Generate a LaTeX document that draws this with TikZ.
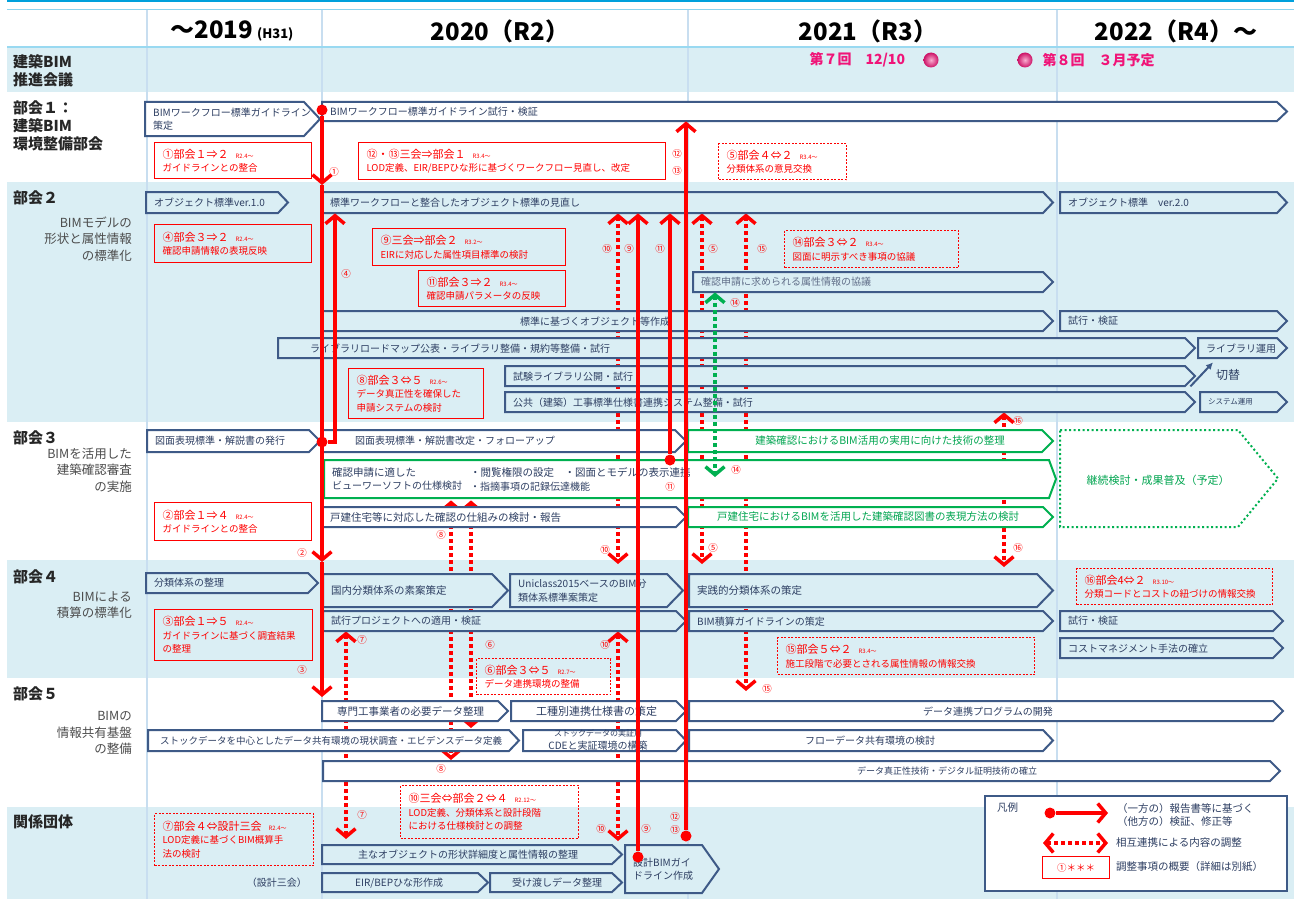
\documentclass[tikz,border=0pt]{standalone}
\usepackage{fontspec}
\setmainfont{Noto Sans CJK JP}
\usetikzlibrary{arrows.meta}
\pgfdeclarelayer{bg}
\pgfdeclarelayer{mid}
\pgfsetlayers{bg,mid,main}

\definecolor{bandc}{RGB}{218,238,244}
\definecolor{boxc}{RGB}{62,90,135}
\definecolor{boxtx}{RGB}{45,62,98}
\definecolor{gridc}{RGB}{200,222,240}
\definecolor{topc}{RGB}{0,160,220}
\definecolor{grn}{RGB}{0,176,80}
\definecolor{grntx}{RGB}{0,165,80}
\definecolor{pinkc}{RGB}{240,20,120}

\newcommand\boxfs{\fontsize{10}{13.5}\selectfont}
\newcommand\notefs{\fontsize{9.5}{13.5}\selectfont}
\newcommand\ttlfs{\fontsize{11}{13.5}\selectfont}
\newcommand\tinyfs{\fontsize{6}{8}\selectfont}
\newcommand\rowfs{\fontsize{15}{18}\selectfont\bfseries}
\newcommand\subfs{\fontsize{12.5}{16.5}\selectfont}
\newcommand\yearfs{\fontsize{24}{28}\selectfont\bfseries}
\newcommand\numfs{\fontsize{9.5}{10}\selectfont}
\newcommand\lgfs{\fontsize{10.5}{13.5}\selectfont}
\newcommand\notettl[2]{{\ttlfs #1}\hspace{7pt}{\tinyfs #2}}

\tikzset{
  chevbox/.style={draw=boxc, line width=2pt, fill=bandc, line join=miter},
  gbox/.style={draw=grn, fill=white},
  gdbox/.style={draw=grn, fill=white, dash pattern=on 2pt off 2.5pt},
  boxtext/.style={text=boxtx, font=\boxfs, inner sep=0pt, align=left},
  gtext/.style={text=grntx, font=\fontsize{10.5}{13}\selectfont, inner sep=0pt},
  rnote/.style={draw=red, line width=1.2pt, text=red, font=\notefs, align=left, inner xsep=8pt, inner ysep=2pt},
  rdnote/.style={dash pattern=on 2pt off 1.5pt},
  rarr/.style={draw=red, line width=3.5pt, -{Straight Barb[length=8pt,width=19pt]}},
  rdot/.style={draw=red, line width=3.5pt, dash pattern=on 3.5pt off 3.5pt,
    {Straight Barb[length=8pt,width=19pt]}-{Straight Barb[length=8pt,width=19pt]}},
  gdot/.style={rdot, draw=grn},
  rball/.style={circle, fill=red, minimum size=11pt, inner sep=0pt},
  pball/.style={circle, minimum size=15pt, inner sep=0pt, shading=radial,
    inner color=pinkc!35!white, outer color=pinkc!85!black},
  num/.style={text=red, font=\numfs, inner sep=0pt},
  rowlab/.style={anchor=west, font=\rowfs, align=left, inner sep=0pt, text=black!85},
  sublab/.style={anchor=east, font=\subfs, align=right, inner sep=0pt, text=black!70},
  lgtext/.style={anchor=west, font=\lgfs, text=boxtx, align=left, inner sep=0pt},
}

\newcommand\chev[8][]{%
  \draw[chevbox,#1] (#3,#4) -- ({#5-#7},#4) -- (#5,{(#4+#6)/2}) -- ({#5-#7},#6) -- (#3,#6) -- cycle;
  \node[inner sep=0pt,minimum width={#5-#3},minimum height={#6-#4},anchor=north west] (#2) at (#3,#4) {};
  \node[boxtext,anchor=west] (#2-t) at ([xshift=8pt]#2.west) {#8};%
}
\newcommand\rnote[7][]{%
  \node[rnote,#1,anchor=north west,text width={#5-#3-16},minimum height={#6-#4}] (#2) at (#3,#4) {#7};%
}

\begin{document}
\begin{tikzpicture}[x=1pt,y=-1pt]
\useasboundingbox (0,0) rectangle (1294,899);

\begin{pgfonlayer}{bg}
  \fill[white] (0,0) rectangle (1294,899);
  \fill[bandc] (7,47) rectangle (1294,92);
  \fill[bandc] (7,182) rectangle (1294,422);
  \fill[bandc] (7,560) rectangle (1294,678);
  \fill[bandc] (7,807) rectangle (1294,899);
  \foreach \x in {147,322,688,1057}
    \draw[gridc, line width=1.5pt] (\x,10) -- (\x,899);
  \draw[topc, line width=2.5pt] (7,1) -- (1294,1);
  \draw[topc!45, line width=1pt] (7,10) -- (1294,10);
  \draw[topc!40, line width=1.5pt] (7,47) -- (1294,47);
\end{pgfonlayer}

\node[font=\yearfs] (yr19) at (232,31) {～2019\,{\fontsize{13}{15}\selectfont (H31)}};
\node[font=\yearfs] (yr20) at (500,31) {2020（R2）};
\node[font=\yearfs] (yr21) at (868,31) {2021（R3）};
\node[font=\yearfs] (yr22) at (1176,31) {2022（R4）～};

\node[rowlab] (h0) at (13,71) {建築BIM\\推進会議};
\node[rowlab] (h1) at (13,126) {部会１：\\建築BIM\\環境整備部会};
\node[rowlab] (h2) at (13,198) {部会２};
\node[sublab] (s2) at (132,239) {BIMモデルの\\形状と属性情報\\の標準化};
\node[rowlab] (h3) at (13,438) {部会３};
\node[sublab] (s3) at (132,470) {BIMを活用した\\建築確認審査\\の実施};
\node[rowlab] (h4) at (13,577) {部会４};
\node[sublab] (s4) at (132,605) {BIMによる\\積算の標準化};
\node[rowlab] (h5) at (13,694) {部会５};
\node[sublab] (s5) at (132,733) {BIMの\\情報共有基盤\\の整備};
\node[rowlab] (h6) at (13,822) {関係団体};

\node[anchor=west, font=\fontsize{14}{16}\selectfont\bfseries, text=pinkc] (mt7) at (806,60) {第７回　12/10};
\node[pball] (m7) at (931,60) {};
\node[pball] (m8) at (1025,60) {};
\node[anchor=west, font=\fontsize{14}{16}\selectfont\bfseries, text=pinkc] (mt8) at (1039,60) {第８回　３月予定};

\chev[fill=white]{wfa}{145}{102}{320}{136}{16}{BIMワークフロー標準ガイドライン\\策定}
\chev[fill=white]{wfb}{322}{102}{1287}{121}{10}{BIMワークフロー標準ガイドライン試行・検証}

\chev{oba}{146}{192}{288}{213}{10}{オブジェクト標準ver.1.0}
\chev{obb}{322}{192}{1053}{213}{10}{標準ワークフローと整合したオブジェクト標準の見直し}
\chev{obc}{1060}{192}{1287}{213}{10}{オブジェクト標準　ver.2.0}
\chev{prm}{693}{272}{1053}{292}{10}{\color{boxtx!75}確認申請に求められる属性情報の協議}
\chev{mkob}{322}{311}{1053}{331}{10}{}
\node[boxtext, anchor=west] (mkob-l) at ([xshift=198pt]mkob.west) {標準に基づくオブジェクト等作成};
\chev{trya}{1060}{311}{1287}{331}{10}{試行・検証}
\chev{lib}{278}{338}{1195}{358}{10}{}
\node[boxtext, anchor=west] (lib-l) at ([xshift=32pt]lib.west) {ライブラリロードマップ公表・ライブラリ整備・規約等整備・試行};
\chev{libop}{1198}{338}{1287}{358}{10}{ライブラリ運用}
\chev{tlib}{505}{366}{1195}{386}{10}{試験ライブラリ公開・試行}
\chev{pubs}{505}{392}{1195}{412}{10}{公共（建築）工事標準仕様書連携システム整備・試行}
\chev{sysop}{1200}{392}{1287}{412}{10}{{\fontsize{7.5}{9}\selectfont システム運用}}

\chev[fill=white]{dwa}{147}{430}{320}{452}{11}{図面表現標準・解説書の発行}
\chev[fill=white]{dwb}{322}{430}{686}{452}{11}{}
\node[boxtext, anchor=west] (dwb-l) at ([xshift=33pt]dwb.west) {図面表現標準・解説書改定・フォローアップ};
\chev[gbox]{gtec}{688}{430}{1053}{452}{11}{}
\node[gtext] (gtec-l) at (880,441) {建築確認におけるBIM活用の実用に向けた技術の整理};
\chev[gbox]{view}{324}{460}{1056}{498}{7}{\fontsize{10.5}{15}\selectfont 確認申請に適した\\ビューワーソフトの仕様検討}
\node[boxtext, anchor=west] (view-l) at ([xshift=146pt]view.west) {\fontsize{10.5}{15}\selectfont ・閲覧権限の設定　・図面とモデルの表示連携\\・指摘事項の記録伝達機能};
\chev[fill=white]{dtch}{322}{507}{686}{527}{10}{\fontsize{10.5}{13}\selectfont 戸建住宅等に対応した確認の仕組みの検討・報告}
\chev[gbox]{gdet}{688}{507}{1053}{527}{10}{}
\node[gtext] (gdet-l) at (868,517) {戸建住宅におけるBIMを活用した建築確認図書の表現方法の検討};
\chev[gdbox]{cont}{1060}{430}{1278}{527}{40}{}
\node[gtext, font=\fontsize{11}{13}\selectfont] (cont-l) at (1158,480) {継続検討・成果普及（予定）};

\chev{clsa}{146}{573}{318}{593}{10}{分類体系の整理}
\chev{clsb}{323}{574}{508}{607}{16}{\fontsize{10.5}{13}\selectfont 国内分類体系の素案策定}
\chev{clsc}{510}{574}{683}{607}{16}{Uniclass2015ベースのBIM分\\類体系標準案策定}
\chev{clsd}{689}{574}{1053}{607}{16}{\fontsize{10.5}{13}\selectfont 実践的分類体系の策定}
\chev{pjt}{323}{611}{686}{631}{10}{試行プロジェクトへの適用・検証}
\chev{qsg}{689}{611}{1053}{631}{10}{BIM積算ガイドラインの策定}
\chev{tryb}{1060}{611}{1283}{631}{10}{試行・検証}
\chev{cmm}{1060}{638}{1283}{658}{10}{コストマネジメント手法の確立}

\chev[fill=white]{spc}{322}{701}{508}{721}{10}{}
\node[boxtext, anchor=west] (spc-l) at ([xshift=15pt]spc.west) {\fontsize{10.5}{13}\selectfont 専門工事業者の必要データ整理};
\chev[fill=white]{kss}{511}{701}{686}{721}{10}{}
\node[boxtext, anchor=west] (kss-l) at ([xshift=25pt]kss.west) {\fontsize{11}{13}\selectfont 工種別連携仕様書の策定};
\chev[fill=white]{dprog}{689}{701}{1283}{721}{10}{}
\node[boxtext, anchor=west] (dprog-l) at ([xshift=234pt]dprog.west) {データ連携プログラムの開発};
\chev[fill=white]{stk}{148}{730}{519}{751}{10}{}
\node[boxtext, anchor=west] (stk-l) at ([xshift=12pt]stk.west) {\fontsize{9.5}{13}\selectfont ストックデータを中心としたデータ共有環境の現状調査・エビデンスデータ定義};
\chev[fill=white]{cde}{523}{730}{686}{751}{10}{}
\node[boxtext, align=center] (cde-l) at (598,740) {\fontsize{8}{10.5}\selectfont ストックデータの実証用\\CDEと実証環境の構築};
\chev[fill=white]{flow}{689}{730}{1053}{751}{10}{}
\node[boxtext, anchor=west] (flow-l) at ([xshift=116pt]flow.west) {フローデータ共有環境の検討};
\chev[fill=white]{auth}{323}{761}{1280}{781}{10}{}
\node[boxtext, anchor=west] (auth-l) at ([xshift=534pt]auth.west) {\fontsize{9}{12}\selectfont データ真正性技術・デジタル証明技術の確立};

\chev{lod}{322}{845}{622}{864}{10}{}
\node[boxtext, anchor=west] (lod-l) at ([xshift=36pt]lod.west) {主なオブジェクトの形状詳細度と属性情報の整理};
\chev{eir}{322}{873}{488}{892}{10}{}
\node[boxtext, anchor=west] (eir-l) at ([xshift=33pt]eir.west) {EIR/BEPひな形作成};
\chev{hnd}{490}{873}{622}{892}{10}{}
\node[boxtext, anchor=west] (hnd-l) at ([xshift=22pt]hnd.west) {受け渡しデータ整理};
\chev{dgl}{625}{845}{719}{893}{17}{設計BIMガイ\\ドライン作成}
\node[boxtext, anchor=east] (skk) at (307,883) {（設計三会）};

\rnote{n1}{154}{142}{311}{178}{\notettl{①部会１⇒２}{R2.4～}\\ガイドラインとの整合}
\rnote{n12}{358}{142}{665}{179}{\notettl{⑫・⑬三会⇒部会１}{R3.4～}\\LOD定義、EIR/BEPひな形に基づくワークフロー見直し、改定}
\rnote[rdnote]{n5}{718}{143}{846}{179}{\notettl{⑤部会４⇔２}{R3.4～}\\分類体系の意見交換}
\rnote{n4}{154}{224}{311}{262}{\notettl{④部会３⇒２}{R2.4～}\\確認申請情報の表現反映}
\rnote{n9}{372}{228}{565}{265}{\notettl{⑨三会⇒部会２}{R3.2～}\\EIRに対応した属性項目標準の検討}
\rnote{n11}{418}{270}{565}{306}{\notettl{⑪部会３⇒２}{R3.4～}\\確認申請パラメータの反映}
\rnote[rdnote]{n14}{784}{230}{958}{267}{\notettl{⑭部会３⇔２}{R3.4～}\\図面に明示すべき事項の協議}
\rnote{n8}{348}{368}{483}{418}{\notettl{⑧部会３⇔５}{R2.6～}\\データ真正性を確保した\\申請システムの検討}
\rnote{n2}{154}{502}{311}{540}{\notettl{②部会１⇒４}{R2.4～}\\ガイドラインとの整合}
\rnote{n3}{154}{609}{312}{660}{\notettl{③部会１⇒５}{R2.4～}\\ガイドラインに基づく調査結果\\の整理}
\rnote[rdnote]{n6}{476}{658}{610}{694}{\notettl{⑥部会３⇔５}{R2.7～}\\データ連携環境の整備}
\rnote[rdnote]{n15}{777}{637}{1034}{674}{\notettl{⑮部会５⇔２}{R3.4～}\\施工段階で必要とされる属性情報の情報交換}
\rnote[rdnote]{n16}{1076}{568}{1272}{604}{\notettl{⑯部会4⇔２}{R3.10～}\\分類コードとコストの紐づけの情報交換}
\rnote[rdnote]{n7}{154}{813}{313}{865}{\notettl{⑦部会４⇔設計三会}{R2.4～}\\LOD定義に基づくBIM概算手\\法の検討}
\rnote[rdnote]{n10}{400}{785}{578}{838}{\notettl{⑩三会⇔部会２⇔４}{R2.12～}\\LOD定義、分類体系と設計段階\\における仕様検討との調整}

\coordinate (k5) at (702,0);
\coordinate (k6) at (471,0);
\coordinate (k7) at (346,0);
\coordinate (k8) at (451,0);
\coordinate (k10) at (618,0);
\coordinate (k14) at (715,0);
\coordinate (k15) at (746,0);
\coordinate (k16) at (1004,0);

\begin{pgfonlayer}{mid}
  \draw[rdot] (k10 |- obb.south) -- ([yshift=10pt]k10 |- clsc.north);
  \draw[rdot] (k10 |- pjt.south) -- ([yshift=4pt]k10 |- lod.north);
  \draw[rdot] (k5 |- obb.south) -- ([yshift=10pt]k5 |- clsd.north);
  \draw[rdot] (k15 |- obb.south) -- ([yshift=10pt]k15 |- dprog.north);
  \draw[rdot] (k16 |- pubs.south) -- ([yshift=7pt]k16 |- clsd.north);
  \draw[rdot] (k7 |- pjt.south) -- ([yshift=6pt]k7 |- lod.north);
  \draw[rdot] ([yshift=-2pt]k8 |- view.south) -- ([yshift=1pt]k8 |- auth.north);
  \draw[rdot] ([yshift=-2pt]k6 |- view.south) -- ([yshift=2pt]k6 |- stk.north);
\end{pgfonlayer}
\draw[gdot] (k14 |- prm.south) -- ([yshift=-17pt]k14 |- view.north);

\draw[boxc, line width=2pt, -{Latex[length=7pt,width=7pt]}] ([xshift=-5pt]tlib.south east) -- ([xshift=15pt,yshift=-4pt]libop.south west);
\node[boxtext, font=\fontsize{12}{14}\selectfont] (swt) at (1228,375) {切替};

\node[rball] (p1) at (322,110) {};
\node[rball] (p4) at (322,442) {};
\node[rball] (p9) at (638,857) {};
\node[rball] (p11) at (670,460) {};
\node[rball] (p12) at (686,836) {};
\draw[rarr] (p1) -- ([yshift=7pt]p1 |- obb.north);
\draw[rarr] ([yshift=7pt]p1 |- obb.north) -- ([yshift=12pt]p1 |- clsb.north);
\draw[rarr] ([yshift=12pt]p1 |- clsb.north) -- ([yshift=4pt]p1 |- spc.north);
\draw[rarr] (p4) -| ([xshift=13pt]p4 |- obb.south);
\draw[rarr] (p9) -- (p9 |- obb.south);
\draw[rarr] (p11) -- (p11 |- obb.south);
\draw[rarr] (p12) -- (p12 |- wfb.south);

\foreach \t/\x/\y [count=\i] in {①/334/172, ⑫/677/154, ⑬/677/171, ④/346/274,
    ⑩/607/249, ⑨/629/249, ⑪/660/249, ⑤/713/249, ⑮/762/249, ⑭/735/303,
    ⑯/1018/421, ⑭/736/470, ⑪/670/487, ⑧/441/535, ②/302/553, ⑩/605/550,
    ⑤/713/548, ⑯/1018/548, ⑦/362/640, ⑥/490/645, ⑩/605/645, ③/302/670,
    ⑮/767/689, ⑧/441/769, ⑦/362/815, ⑫/675/817, ⑬/675/830, ⑩/601/829, ⑨/646/829}
  \node[num] (lab\i) at (\x,\y) {\t};

\node[draw=boxc, line width=2pt, fill=white, minimum width=302pt, minimum height=95pt, inner sep=0pt, anchor=north west] (lgd) at (984,795) {};
\node[lgtext] (lgh) at (997,808) {凡例};
\node[rball] (lgb) at (1050,813) {};
\coordinate (lge) at (1108,813);
\draw[rarr] (lgb) -- (lge);
\node[lgtext] (lg1) at (1117,815) {（一方の）報告書等に基づく\\（他方の）検証、修正等};
\coordinate (lgd1) at (1043,843);
\coordinate (lgd2) at (1108,843);
\draw[rdot] (lgd1) -- (lgd2);
\node[lgtext] (lg2) at (1116,843) {相互連携による内容の調整};
\node[rnote, minimum width=67pt, minimum height=22pt, inner sep=0pt, align=center, anchor=north west] (lg3) at (1042,856) {①＊＊＊};
\node[lgtext] (lg4) at (1116,867) {調整事項の概要（詳細は別紙）};
\end{tikzpicture}
\end{document}
